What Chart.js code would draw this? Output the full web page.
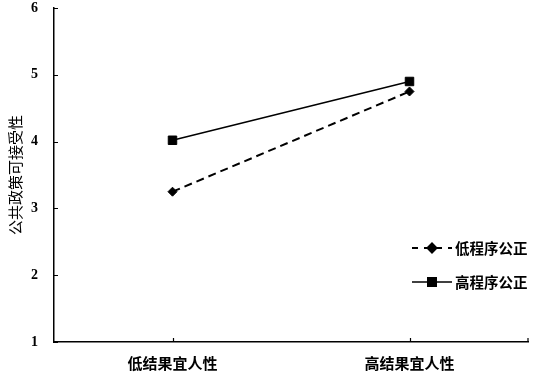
<!DOCTYPE html>
<html>
<head>
<meta charset="utf-8">
<script src="https://cdn.jsdelivr.net/npm/chart.js@4.4.0/dist/chart.umd.min.js"></script>
<style>
  html, body { margin: 0; padding: 0; background: #fff; }
  #wrap { width: 535px; height: 375px; }
</style>
</head>
<body>
<div id="wrap"><canvas id="c"></canvas></div>
<script>
// data
const categories = ['低结果宜人性', '高结果宜人性'];
const lowProcedural = [3.25, 4.75];
const highProcedural = [4.02, 4.90];
const seriesNames = ['低程序公正', '高程序公正'];
const yTicks = [1, 2, 3, 4, 5, 6];

const cjk = '"Noto Sans CJK SC", "Noto Sans", sans-serif';

// inward tick marks like the original
const innerTicks = {
    id: 'innerTicks',
    afterDraw(chart) {
        const { ctx, scales: { x, y }, chartArea } = chart;
        ctx.save();
        ctx.strokeStyle = '#000';
        ctx.lineWidth = 1.2;
        ctx.beginPath();
        yTicks.forEach(v => {
            const py = Math.round(y.getPixelForValue(v)) + 0.5;
            ctx.moveTo(chartArea.left, py);
            ctx.lineTo(chartArea.left + 4, py);
        });
        categories.forEach((c, i) => {
            const px = Math.round(x.getPixelForValue(i)) + 0.5;
            ctx.moveTo(px, chartArea.bottom);
            ctx.lineTo(px, chartArea.bottom - 4);
        });
        ctx.moveTo(chartArea.right, chartArea.bottom);
        ctx.lineTo(chartArea.right, chartArea.bottom - 4);
        ctx.stroke();
        ctx.restore();
    }
};

// legend drawn by hand: line with marker through it
const sideLegend = {
    id: 'sideLegend',
    afterDraw(chart) {
        const { ctx } = chart;
        const rows = [
            { y: 248, dash: [6, 6], width: 2, style: 'rectRot', r: 4.5 },
            { y: 282, dash: [], width: 1.5, style: 'rect', r: 6 }
        ];
        ctx.save();
        rows.forEach((row, i) => {
            ctx.strokeStyle = '#000';
            ctx.fillStyle = '#000';
            ctx.lineWidth = row.width;
            ctx.setLineDash(row.dash);
            ctx.beginPath();
            ctx.moveTo(412, row.y);
            ctx.lineTo(452, row.y);
            ctx.stroke();
            ctx.setLineDash([]);
            Chart.helpers.drawPoint(ctx, { pointStyle: row.style, radius: row.r, borderWidth: 1, rotation: 0 }, 432, row.y);
            ctx.fill();
            ctx.font = 'bold 14.5px ' + cjk;
            ctx.textBaseline = 'middle';
            ctx.textAlign = 'left';
            ctx.fillText(seriesNames[i], 455, row.y);
        });
        ctx.restore();
    }
};

new Chart(document.getElementById('c'), {
    type: 'line',
    data: {
        labels: categories,
        datasets: [
            {
                label: seriesNames[0],
                data: lowProcedural,
                borderColor: '#000',
                backgroundColor: '#000',
                borderWidth: 2,
                borderDash: [8, 5],
                pointStyle: 'rectRot',
                pointRadius: 4.5,
                pointBorderWidth: 1
            },
            {
                label: seriesNames[1],
                data: highProcedural,
                borderColor: '#000',
                backgroundColor: '#000',
                borderWidth: 1.5,
                pointStyle: 'rect',
                pointRadius: 6,
                pointBorderWidth: 1
            }
        ]
    },
    options: {
        responsive: true,
        maintainAspectRatio: false,
        animation: false,
        layout: { padding: { top: 8, right: 5, left: 6, bottom: 0 } },
        plugins: { legend: { display: false }, tooltip: { enabled: false } },
        scales: {
            x: {
                offset: true,
                grid: { display: false, drawTicks: false },
                border: { display: true, color: '#000', width: 1.5 },
                ticks: { color: '#000', padding: 12, font: { family: cjk, size: 15, weight: 'bold' } },
                afterFit: s => { s.height = 33; s.paddingLeft = 0; s.paddingRight = 0; }
            },
            y: {
                min: 1,
                max: 6,
                grid: { display: false, drawTicks: false },
                border: { display: true, color: '#000', width: 1.5 },
                ticks: {
                    stepSize: 1,
                    color: '#000',
                    padding: 16,
                    font: { family: '"Liberation Serif", serif', size: 14, weight: 'bold' }
                },
                title: {
                    display: true,
                    text: '公共政策可接受性',
                    color: '#000',
                    padding: 0,
                    font: { family: cjk, size: 15 }
                },
                afterFit: s => { s.width = 48; s.paddingTop = 0; s.paddingBottom = 0; }
            }
        }
    },
    plugins: [innerTicks, sideLegend]
});
</script>
</body>
</html>
